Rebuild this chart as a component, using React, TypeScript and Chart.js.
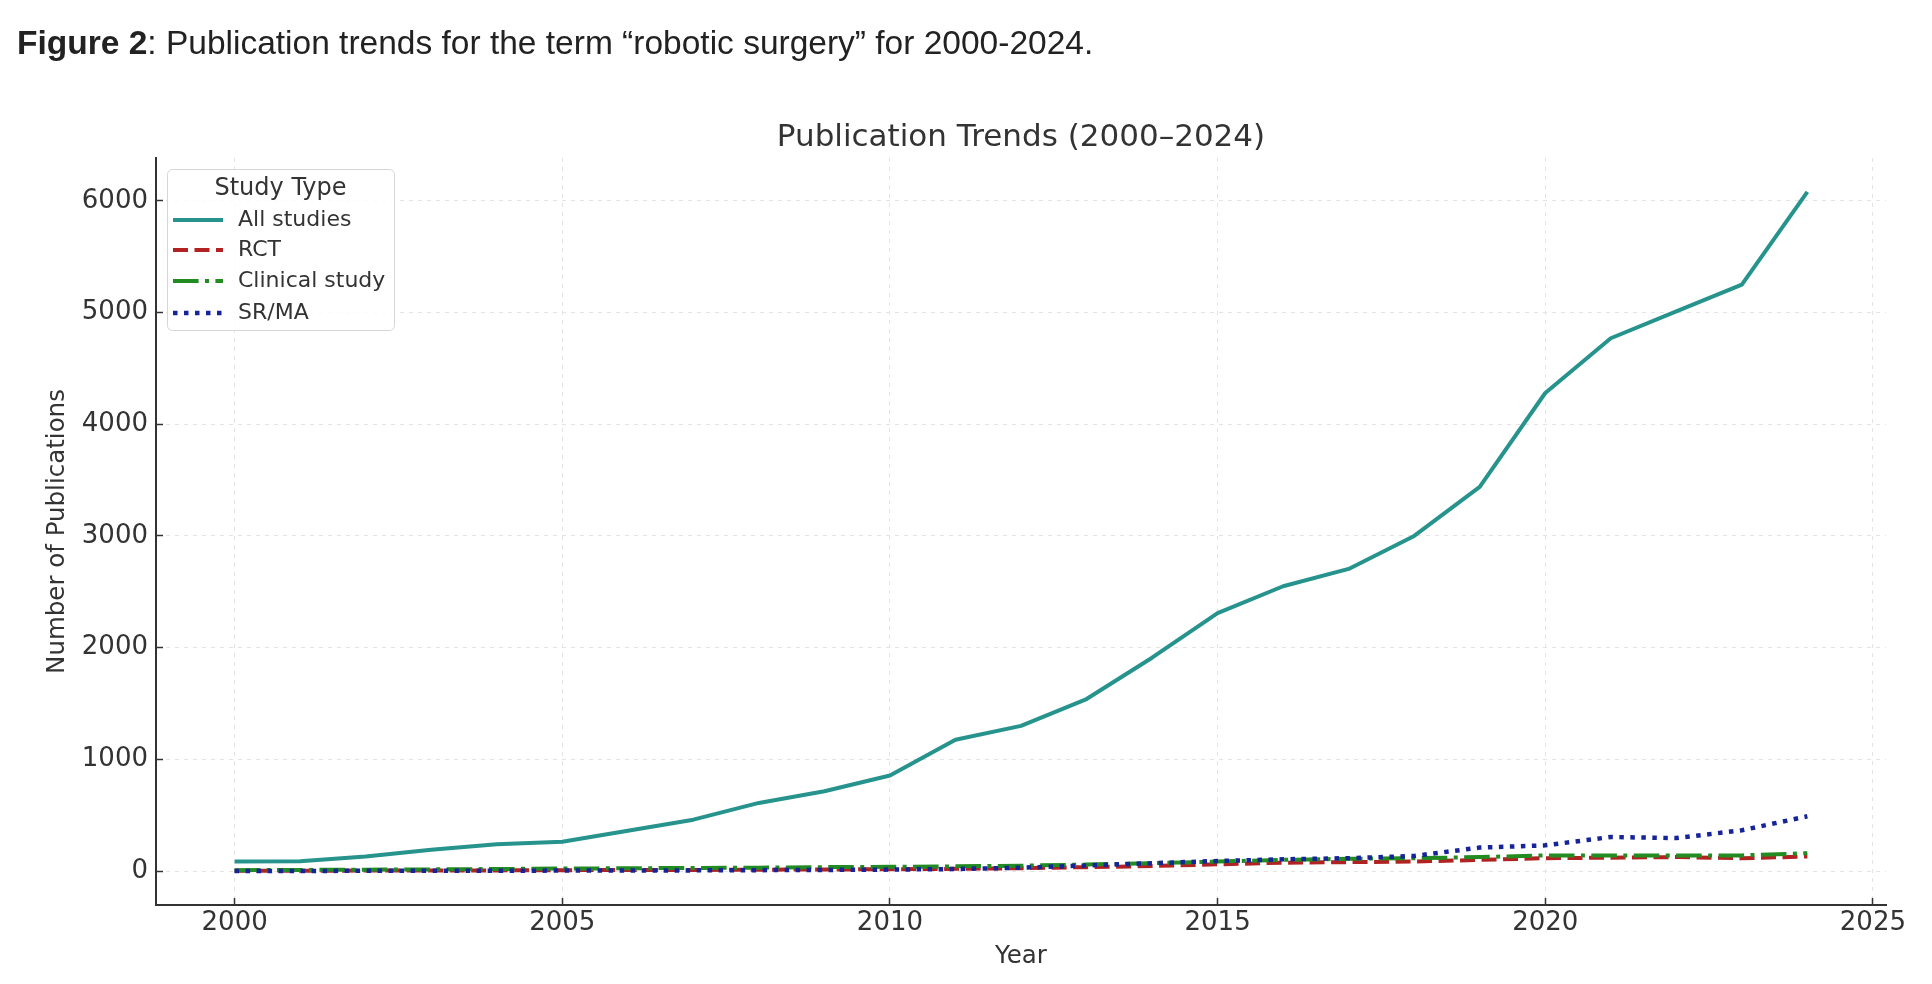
import React, { useEffect, useRef } from 'react';
import { Chart, registerables } from 'chart.js';

Chart.register(...registerables);

// ---------------- data ----------------
const years = [
  2000, 2001, 2002, 2003, 2004, 2005, 2006, 2007, 2008, 2009, 2010, 2011, 2012,
  2013, 2014, 2015, 2016, 2017, 2018, 2019, 2020, 2021, 2022, 2023, 2024,
];
const allStudies = [
  85, 88, 130, 190, 240, 262, 360, 460, 610, 715, 855, 1175, 1300,
  1540, 1910, 2310, 2550, 2705, 3000, 3440, 4280, 4770, 5010, 5250, 6080,
];
const rct = [
  2, 3, 4, 5, 6, 8, 9, 10, 12, 14, 16, 20, 25,
  35, 45, 60, 75, 80, 85, 100, 115, 120, 125, 115, 130,
];
const clinicalStudy = [
  8, 10, 12, 15, 18, 22, 25, 28, 30, 35, 38, 42, 48,
  58, 70, 85, 100, 110, 115, 125, 140, 140, 140, 140, 160,
];
const srma = [
  1, 1, 2, 2, 3, 4, 5, 6, 8, 10, 13, 18, 30,
  50, 70, 90, 105, 115, 135, 210, 230, 305, 295, 365, 490,
];
const xTickValues = [2000, 2005, 2010, 2015, 2020, 2025];
const yTickValues = [0, 1000, 2000, 3000, 4000, 5000, 6000];
const seriesLabels = ['All studies', 'RCT', 'Clinical study', 'SR/MA'];

const captionBold = 'Figure 2';
const captionRest = ': Publication trends for the term \u201Crobotic surgery\u201D for 2000-2024.';
const chartTitle = 'Publication Trends (2000\u20132024)';
const legendTitle = 'Study Type';
const xAxisTitle = 'Year';
const yAxisTitle = 'Number of Publications';

// ---------------- styles ----------------
const FONT = '"DejaVu Sans", sans-serif';
const TEXT = '#333333';
const SPINE = '#333333';
const GRID = '#e4e4e4';

const overlayPlugin = {
  id: 'overlay',
  afterDraw(chart: any) {
    const ctx: CanvasRenderingContext2D = chart.ctx;
    const ca = chart.chartArea;
    ctx.save();
    // title
    ctx.fillStyle = TEXT;
    ctx.font = `31px ${FONT}`;
    ctx.textAlign = 'center';
    ctx.textBaseline = 'alphabetic';
    ctx.fillText(chartTitle, (ca.left + ca.right) / 2, 146);

    // legend
    const bx = ca.left + 11;
    const by = ca.top + 11;
    const bw = 227;
    const bh = 161;
    ctx.beginPath();
    (ctx as any).roundRect(bx + 0.5, by + 0.5, bw, bh, 5);
    ctx.fillStyle = 'rgba(255,255,255,0.85)';
    ctx.fill();
    ctx.strokeStyle = '#d6d6d6';
    ctx.lineWidth = 1;
    ctx.stroke();

    ctx.fillStyle = TEXT;
    ctx.font = `24px ${FONT}`;
    ctx.textAlign = 'center';
    ctx.textBaseline = 'middle';
    ctx.fillText(legendTitle, bx + bw / 2, by + 20);

    const rowY = [by + 51, by + 81, by + 112, by + 144];
    chart.data.datasets.forEach((ds: any, i: number) => {
      const y = rowY[i];
      ctx.save();
      ctx.beginPath();
      ctx.strokeStyle = ds.borderColor;
      ctx.lineWidth = ds.borderWidth;
      ctx.setLineDash(ds.borderDash || []);
      ctx.lineCap = 'butt';
      ctx.moveTo(bx + 6, y);
      ctx.lineTo(bx + 56, y);
      ctx.stroke();
      ctx.restore();
      ctx.fillStyle = TEXT;
      ctx.font = `22px ${FONT}`;
      ctx.textAlign = 'left';
      ctx.textBaseline = 'middle';
      ctx.fillText(ds.label, bx + 71, y);
    });
    ctx.restore();
  },
};

function toPoints(values: number[]) {
  return years.map((yr, i) => ({ x: yr, y: values[i] }));
}

export default function App() {
  const canvasRef = useRef<HTMLCanvasElement | null>(null);

  useEffect(() => {
    if (!canvasRef.current) return;
    const chart = new Chart(canvasRef.current, {
      type: 'line',
      data: {
        datasets: [
          {
            label: seriesLabels[0],
            data: toPoints(allStudies),
            borderColor: '#26938d',
            borderWidth: 4,
            borderDash: [],
            borderJoinStyle: 'round',
            pointRadius: 0,
            tension: 0,
            order: 4,
          },
          {
            label: seriesLabels[1],
            data: toPoints(rct),
            borderColor: '#b22222',
            borderWidth: 4,
            borderDash: [15, 6.5],
            pointRadius: 0,
            tension: 0,
            order: 3,
          },
          {
            label: seriesLabels[2],
            data: toPoints(clinicalStudy),
            borderColor: '#228b22',
            borderWidth: 4,
            borderDash: [25.6, 6.4, 4, 6.4],
            pointRadius: 0,
            tension: 0,
            order: 2,
          },
          {
            label: seriesLabels[3],
            data: toPoints(srma),
            borderColor: '#16249a',
            borderWidth: 4.5,
            borderDash: [4.5, 6.5],
            pointRadius: 0,
            tension: 0,
            order: 1,
          },
        ],
      } as any,
      options: {
        responsive: false,
        animation: false,
        devicePixelRatio: 1,
        layout: { padding: { top: 158, right: 46, bottom: 0, left: 0 } },
        plugins: {
          legend: { display: false },
          title: { display: false },
          tooltip: { enabled: false },
        },
        scales: {
          x: {
            type: 'linear',
            min: 1998.8,
            max: 2025.2,
            afterBuildTicks: (scale: any) => {
              scale.ticks = xTickValues.map((v) => ({ value: v }));
            },
            afterFit: (scale: any) => {
              scale.height = 79;
            },
            ticks: {
              autoSkip: false,
              maxRotation: 0,
              padding: 10,
              color: TEXT,
              font: { family: FONT, size: 26 },
              callback: (v: any) => String(v),
            },
            grid: {
              color: GRID,
              lineWidth: 1,
              tickLength: -7,
              tickColor: SPINE,
              tickWidth: 1.5,
              tickBorderDash: [],
            },
            border: { display: true, color: SPINE, width: 2, dash: [4, 5] },
            title: {
              display: true,
              text: xAxisTitle,
              color: TEXT,
              font: { family: FONT, size: 24.5 },
              padding: { top: 0, bottom: 13 },
            },
          },
          y: {
            type: 'linear',
            min: -304,
            max: 6384,
            afterBuildTicks: (scale: any) => {
              scale.ticks = yTickValues.map((v) => ({ value: v }));
            },
            afterFit: (scale: any) => {
              scale.width = 156;
            },
            ticks: {
              autoSkip: false,
              padding: 15,
              color: TEXT,
              font: { family: FONT, size: 26 },
              callback: (v: any) => String(v),
            },
            grid: {
              color: GRID,
              lineWidth: 1,
              tickLength: -7,
              tickColor: SPINE,
              tickWidth: 1.5,
              tickBorderDash: [],
            },
            border: { display: true, color: SPINE, width: 2, dash: [4, 5] },
            title: {
              display: true,
              text: yAxisTitle,
              color: TEXT,
              font: { family: FONT, size: 24.5 },
              padding: { top: 43, bottom: 0 },
            },
          },
        },
      } as any,
      plugins: [overlayPlugin],
    });
    return () => chart.destroy();
  }, []);

  return (
    <div
      style={{
        position: 'fixed',
        left: 0,
        top: 0,
        width: 1932,
        height: 984,
        background: '#ffffff',
        overflow: 'hidden',
      }}
    >
      <canvas
        ref={canvasRef}
        width={1932}
        height={984}
        style={{ position: 'absolute', left: 0, top: 0, width: 1932, height: 984 }}
      />
      <div
        style={{
          position: 'absolute',
          left: 17,
          top: 25.6,
          fontFamily: '"Liberation Sans", Arial, sans-serif',
          fontSize: 33.5,
          lineHeight: '33.5px',
          color: '#222222',
          whiteSpace: 'nowrap',
        }}
      >
        <b>{captionBold}</b>
        {captionRest}
      </div>
    </div>
  );
}
